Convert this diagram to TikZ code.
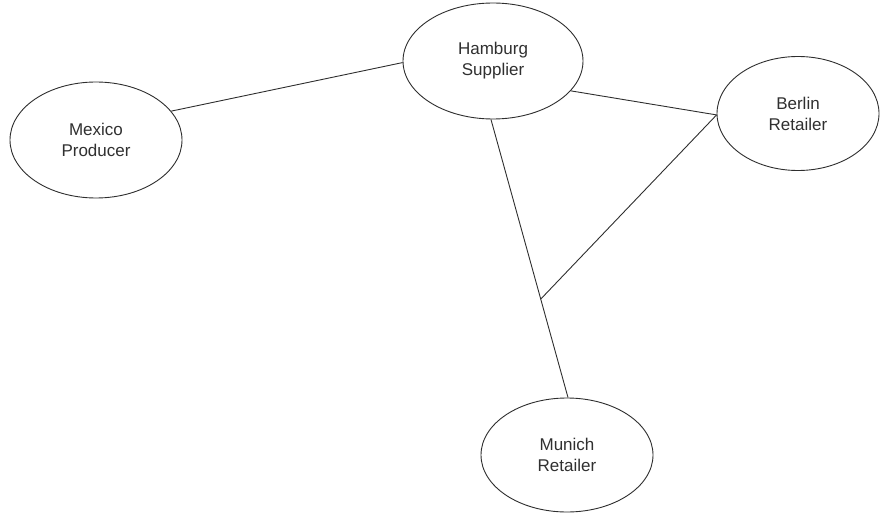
\documentclass[tikz,border=0pt]{standalone}
\usepackage{fontspec}
\setmainfont{Liberation Sans}
\usetikzlibrary{shapes.geometric,calc}
\definecolor{edgegray}{HTML}{2E2E2E}
\definecolor{textgray}{HTML}{303030}
\begin{document}
\begin{tikzpicture}[x=1pt,y=-1pt,
  place/.style={ellipse,draw=edgegray,line width=0.9pt,fill=white,inner sep=0pt,
    text=textgray,align=center,font=\fontsize{17}{21}\selectfont},
  link/.style={draw=edgegray,line width=0.9pt}]
  \useasboundingbox (0,0) rectangle (880,513);

  % locations
  \node[place,minimum width=180pt,minimum height=116pt] (hamburg) at (493,61) {Hamburg\\Supplier};
  \node[place,minimum width=172pt,minimum height=116pt] (mexico)  at (96,140) {Mexico\\Producer};
  \node[place,minimum width=162pt,minimum height=114pt] (berlin)  at (798,113.5) {Berlin\\Retailer};
  \node[place,minimum width=172pt,minimum height=114pt] (munich)  at (567,455) {Munich\\Retailer};

  % connections
  \draw[link] (mexico.21) -- (hamburg.181);
  \draw[link] (hamburg.339) -- (berlin.181);
  \draw[link] (hamburg.268) -- (munich.89);
  \coordinate (fork) at ($(hamburg.268)!0.646!(munich.89)$);
  \draw[link] (berlin.181) -- (fork);
\end{tikzpicture}
\end{document}
